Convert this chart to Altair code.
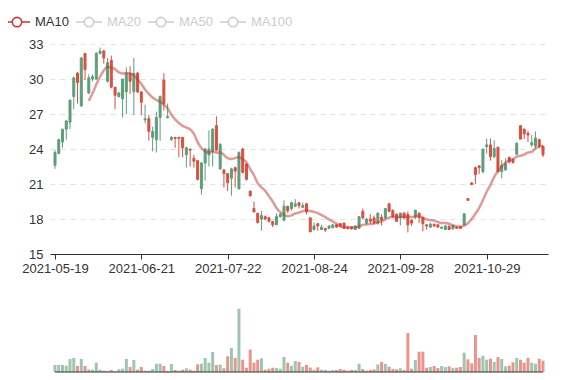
import altair as alt
import pandas as pd

FONT = "Liberation Sans"

# ---- data (price, trading-day index 0..130) ----
opens = [22.6, 23.6, 24.6, 25.7, 26.3, 28.5, 30.5, 27.7, 32.2, 28.8,
         30.0, 30.0, 32.2, 32.4, 29.8, 31.6, 29.3, 28.5, 28.3, 28.9,
         30.5, 28.9, 30.5, 28.9, 26.5, 26.6, 25.0, 24.8, 26.7, 29.9,
         26.7, 24.8, 25.0, 25.0, 25.0, 23.5, 24.0, 23.2, 23.0, 20.6,
         22.8, 23.5, 23.8, 26.0, 22.3, 22.2, 21.9, 21.5, 22.4, 20.6,
         24.0, 22.7, 20.4, 18.9, 18.5, 18.0, 18.2, 18.1, 17.8, 17.5,
         18.2, 17.9, 19.1, 18.9, 19.1, 19.4, 19.0, 19.3, 18.1, 17.1,
         17.6, 17.1, 17.2, 17.2, 17.25, 17.5, 17.6, 17.65, 17.3, 17.3,
         17.1, 17.2, 18.65, 17.65, 18.0, 18.1, 17.65, 18.15, 18.1, 19.3,
         18.75, 18.4, 18.1, 18.5, 18.4, 17.9, 18.2, 18.5, 18.15, 17.5,
         17.3, 17.55, 17.5, 17.2, 17.1, 17.35, 17.15, 17.3, 17.35, 17.5,
         19.75, 21.1, 22.4, 22.55, 22.05, 24.2, 24.35, 23.35, 24.15, 22.05,
         22.2, 23.3, 23.1, 23.55, 26.0, 25.7, 25.35, 24.35, 24.25, 24.8,
         24.25]
closes = [23.7, 24.8, 25.7, 26.4, 28.2, 30.1, 29.7, 31.8, 30.8, 30.1,
          30.2, 32.2, 32.4, 31.8, 31.4, 29.3, 28.6, 28.8, 30.0, 30.5,
          29.8, 30.5, 28.9, 28.0, 26.6, 25.5, 25.5, 26.7, 28.5, 27.9,
          26.8, 25.0, 24.9, 24.9, 24.1, 24.1, 23.9, 22.95, 21.4, 22.8,
          24.0, 24.0, 25.7, 23.9, 24.4, 21.9, 21.1, 22.3, 22.1, 23.7,
          22.0, 21.4, 20.0, 18.6, 17.7, 18.3, 18.0, 17.8, 17.5, 18.2,
          18.4, 19.1, 18.7, 19.4, 19.3, 19.15, 19.15, 18.6, 16.9, 17.4,
          17.4, 17.3, 17.05, 17.4, 17.5, 17.3, 17.35, 17.2, 17.2, 17.15,
          17.4, 18.2, 18.1, 18.0, 17.8, 17.65, 18.5, 17.9, 18.9, 18.65,
          18.2, 17.8, 18.5, 18.1, 17.5, 17.65, 18.75, 18.15, 17.6, 17.4,
          17.55, 17.4, 17.3, 17.3, 17.4, 17.1, 17.45, 17.2, 17.2, 18.45,
          19.6, 20.95, 21.8, 22.4, 24.0, 24.35, 23.35, 24.05, 22.05, 22.6,
          22.75, 22.9, 22.85, 24.5, 24.85, 25.3, 25.2, 24.55, 24.95, 24.25,
          23.5]
highs = [23.9, 24.9, 25.7, 26.5, 28.2, 30.2, 30.6, 31.9, 32.2, 30.4,
         30.4, 32.3, 32.7, 32.5, 31.8, 32.0, 29.3, 28.9, 30.0, 31.0,
         31.1, 31.8, 30.6, 28.9, 27.8, 26.9, 25.9, 27.2, 28.6, 30.5,
         27.9, 25.1, 25.0, 25.0, 25.0, 24.2, 24.0, 23.5, 23.0, 22.9,
         24.1, 25.6, 25.8, 26.8, 24.5, 22.3, 21.9, 22.4, 22.5, 23.8,
         24.1, 22.8, 20.4, 19.5, 18.5, 18.7, 18.3, 18.2, 17.8, 18.5,
         18.5, 19.6, 19.1, 19.5, 19.7, 19.4, 19.4, 19.4, 18.1, 17.7,
         17.6, 17.5, 17.2, 17.45, 17.55, 17.55, 17.65, 17.7, 17.3, 17.35,
         17.45, 18.2, 18.9, 18.1, 18.4, 18.3, 18.55, 18.4, 18.95, 19.4,
         18.8, 18.5, 18.55, 18.6, 18.65, 17.95, 18.8, 18.55, 18.15, 17.55,
         17.7, 17.6, 17.55, 17.35, 17.5, 17.5, 17.5, 17.35, 17.4, 18.5,
         19.8, 21.15, 22.5, 22.6, 24.0, 24.9, 24.9, 24.75, 24.2, 23.05,
         23.2, 23.3, 23.2, 24.55, 26.05, 25.75, 25.55, 25.2, 25.5, 24.9,
         24.25]
lows = [22.3, 23.6, 24.1, 24.8, 25.7, 27.4, 27.9, 27.6, 29.9, 28.7,
        29.8, 29.9, 32.1, 31.3, 29.7, 29.2, 27.4, 28.4, 26.7, 27.0,
        28.7, 26.9, 28.8, 26.9, 26.2, 24.7, 23.8, 23.7, 24.7, 27.3,
        26.6, 24.7, 24.1, 23.3, 23.3, 22.4, 22.5, 22.4, 21.3, 20.1,
        21.3, 22.5, 22.5, 23.8, 22.2, 20.7, 20.4, 20.0, 20.7, 20.5,
        21.9, 21.3, 19.9, 18.6, 17.6, 17.0, 17.9, 17.7, 17.3, 17.5,
        18.1, 17.8, 18.5, 18.7, 19.0, 18.9, 18.95, 18.4, 16.9, 17.0,
        17.0, 17.1, 16.9, 17.15, 17.2, 17.25, 17.3, 17.15, 17.1, 17.1,
        17.05, 17.2, 18.0, 17.5, 17.6, 17.55, 17.5, 17.45, 18.0, 18.6,
        18.1, 17.75, 17.45, 18.0, 16.85, 17.4, 18.0, 17.65, 16.95, 17.1,
        17.25, 17.35, 17.25, 17.15, 17.05, 17.05, 17.1, 17.15, 17.15, 17.45,
        19.6, 20.9, 21.0, 21.85, 21.9, 23.6, 23.0, 23.2, 22.0, 21.5,
        22.15, 22.75, 22.75, 23.5, 24.85, 24.85, 24.6, 24.2, 24.05, 24.05,
        23.3]
volumes = [7.0, 7.0, 7.0, 6.3, 13.0, 14.0, 6.0, 13.0, 6.0, 2.7,
           2.3, 9.3, 2.3, 1.3, 1.0, 2.0, 0.5, 2.7, 3.3, 13.0,
           5.0, 12.0, 2.3, 5.0, 1.3, 1.3, 3.0, 8.3, 8.3, 6.0,
           1.0, 8.0, 2.0, 1.3, 2.3, 3.7, 2.3, 1.3, 7.7, 8.3,
           14.0, 9.3, 20.0, 7.0, 7.3, 3.7, 15.7, 24.0, 14.0, 63.3,
           12.3, 4.3, 22.3, 9.3, 12.3, 13.7, 2.3, 3.3, 4.3, 4.0,
           3.3, 15.0, 9.3, 6.3, 11.0, 10.0, 5.3, 7.0, 4.3, 2.3,
           4.7, 2.3, 2.0, 1.3, 2.0, 2.0, 3.0, 2.3, 1.3, 2.0,
           2.0, 8.3, 3.0, 1.3, 2.0, 2.7, 7.7, 10.0, 8.0, 5.3,
           3.0, 2.7, 3.7, 2.0, 39.0, 3.3, 12.0, 20.3, 20.3, 4.3,
           5.0, 6.0, 4.0, 6.0, 5.0, 5.7, 4.3, 4.3, 5.0, 19.3,
           12.7, 8.7, 37.0, 14.0, 16.3, 12.3, 13.3, 10.0, 15.0, 13.0,
           5.7, 6.3, 9.7, 14.0, 12.3, 9.3, 14.0, 9.3, 8.3, 13.3,
           11.3]

tick_labels = ["2021-05-19", "2021-06-21", "2021-07-22",
               "2021-08-24", "2021-09-28", "2021-10-29"]
tick_step = 23
series_names = ["MA10", "MA20", "MA50", "MA100"]
y_ticks = [15, 18, 21, 24, 27, 30, 33]

UP = "#5d9e7b"
DOWN = "#d85040"
MA_COLOR = "#c23531"

# layout: one plot area holding the price panel (top 210 px) and the
# volume panel (bottom), each with its own y scale
W, H = 498, 328
PRICE_H = 210
VOL_UNITS = H  # volume panel scale spans the whole plot height

n = len(opens)
df = pd.DataFrame({"i": list(range(n)), "open": opens, "close": closes,
                   "high": highs, "low": lows, "volume": volumes})
df["col"] = [UP if c >= o else DOWN for o, c in zip(opens, closes)]

ma = pd.DataFrame({"i": list(range(n)),
                   "ma": pd.Series(closes).rolling(10).mean()}).dropna()
ma["series"] = "MA10"

p_min, p_max = y_ticks[0], y_ticks[-1]
p_low = p_max - (p_max - p_min) * H / PRICE_H

x_scale = alt.Scale(domain=[0, n - 1], nice=False, zero=False)
y_scale = alt.Scale(domain=[p_low, p_max], nice=False, zero=False)
v_scale = alt.Scale(domain=[0, VOL_UNITS], nice=False, zero=True)

label_expr = ("[" + ",".join("'%s'" % t for t in tick_labels) + "]"
              + "[round(datum.value / %d)]" % tick_step)

x_axis = alt.Axis(values=[k * tick_step for k in range(len(tick_labels))],
                  tickCount=len(tick_labels) + 2, offset=PRICE_H - H,
                  labelExpr=label_expr, grid=False, domainColor="#333",
                  tickColor="#333", tickSize=5, labelColor="#333",
                  labelFontSize=13, labelFont=FONT, labelPadding=3,
                  labelFlush=False, labelOverlap=False, title=None)
y_axis = alt.Axis(values=y_ticks, tickCount=len(y_ticks) + 2,
                  grid=True, gridDash=[5, 5],
                  gridColor="#e0e0e0", domain=False, ticks=False,
                  labelColor="#333", labelFontSize=13, labelFont=FONT,
                  labelPadding=7, labelOverlap=False, labelFlush=False,
                  title=None)

base = alt.Chart(df)

wicks = base.mark_rule(strokeWidth=1).encode(
    x=alt.X("i:Q", scale=x_scale, axis=x_axis),
    y=alt.Y("low:Q", scale=y_scale, axis=y_axis),
    y2="high:Q",
    stroke=alt.Stroke("col:N", scale=None),
)

bodies = base.mark_bar(size=2, strokeWidth=1).encode(
    x=alt.X("i:Q", scale=x_scale),
    y=alt.Y("open:Q", scale=y_scale),
    y2="close:Q",
    fill=alt.Fill("col:N", scale=None),
    stroke=alt.Stroke("col:N", scale=None),
)

legend_symbol = ("M-1,0L-0.36,0M0.36,0L1,0M0.36,0"
                 "A0.36,0.36,0,1,1,-0.36,0A0.36,0.36,0,1,1,0.36,0Z")

ma_line = alt.Chart(ma).mark_line(strokeWidth=2.5, opacity=0.5,
                                  interpolate="monotone").encode(
    x=alt.X("i:Q", scale=x_scale),
    y=alt.Y("ma:Q", scale=y_scale),
    color=alt.Color(
        "series:N",
        scale=alt.Scale(domain=series_names,
                        range=[MA_COLOR, "#cccccc", "#cccccc", "#cccccc"]),
        legend=alt.Legend(
            orient="none", legendX=-47, legendY=-36, direction="horizontal",
            columns=4, title=None, symbolType=legend_symbol, symbolSize=676,
            symbolStrokeWidth=1.6, symbolFillColor="white", symbolOpacity=1,
            labelFont=FONT, labelFontSize=13, labelOffset=4,
            columnPadding=3, padding=0,
            labelColor=alt.ExprRef("datum.label == 'MA10' ? '#333333' : '#cccccc'"),
        ),
    ),
)

price = alt.layer(wicks, bodies, ma_line)

vol_bars = alt.Chart(df).mark_bar(size=3, opacity=0.6).encode(
    x=alt.X("i:Q", scale=x_scale),
    y=alt.Y("volume:Q", scale=v_scale, axis=None),
    fill=alt.Fill("col:N", scale=None),
)

base_df = pd.DataFrame({"x0": [0], "x1": [n - 1], "v": [0]})
vol_base = alt.Chart(base_df).mark_rule(color="#333", strokeWidth=1).encode(
    x=alt.X("x0:Q", scale=x_scale),
    x2="x1:Q",
    y=alt.Y("v:Q", scale=v_scale, axis=None),
)

vol = alt.layer(vol_bars, vol_base)

chart = alt.layer(price, vol).resolve_scale(y="independent").properties(
    width=W, height=H,
    autosize=alt.AutoSizeParams(type="none"),
    padding={"left": 42, "top": 36, "right": 6, "bottom": 2},
).configure(font=FONT).configure_view(strokeWidth=0, stroke=None)

chart.save("out.html", embed_options={"renderer": "svg", "actions": False})
